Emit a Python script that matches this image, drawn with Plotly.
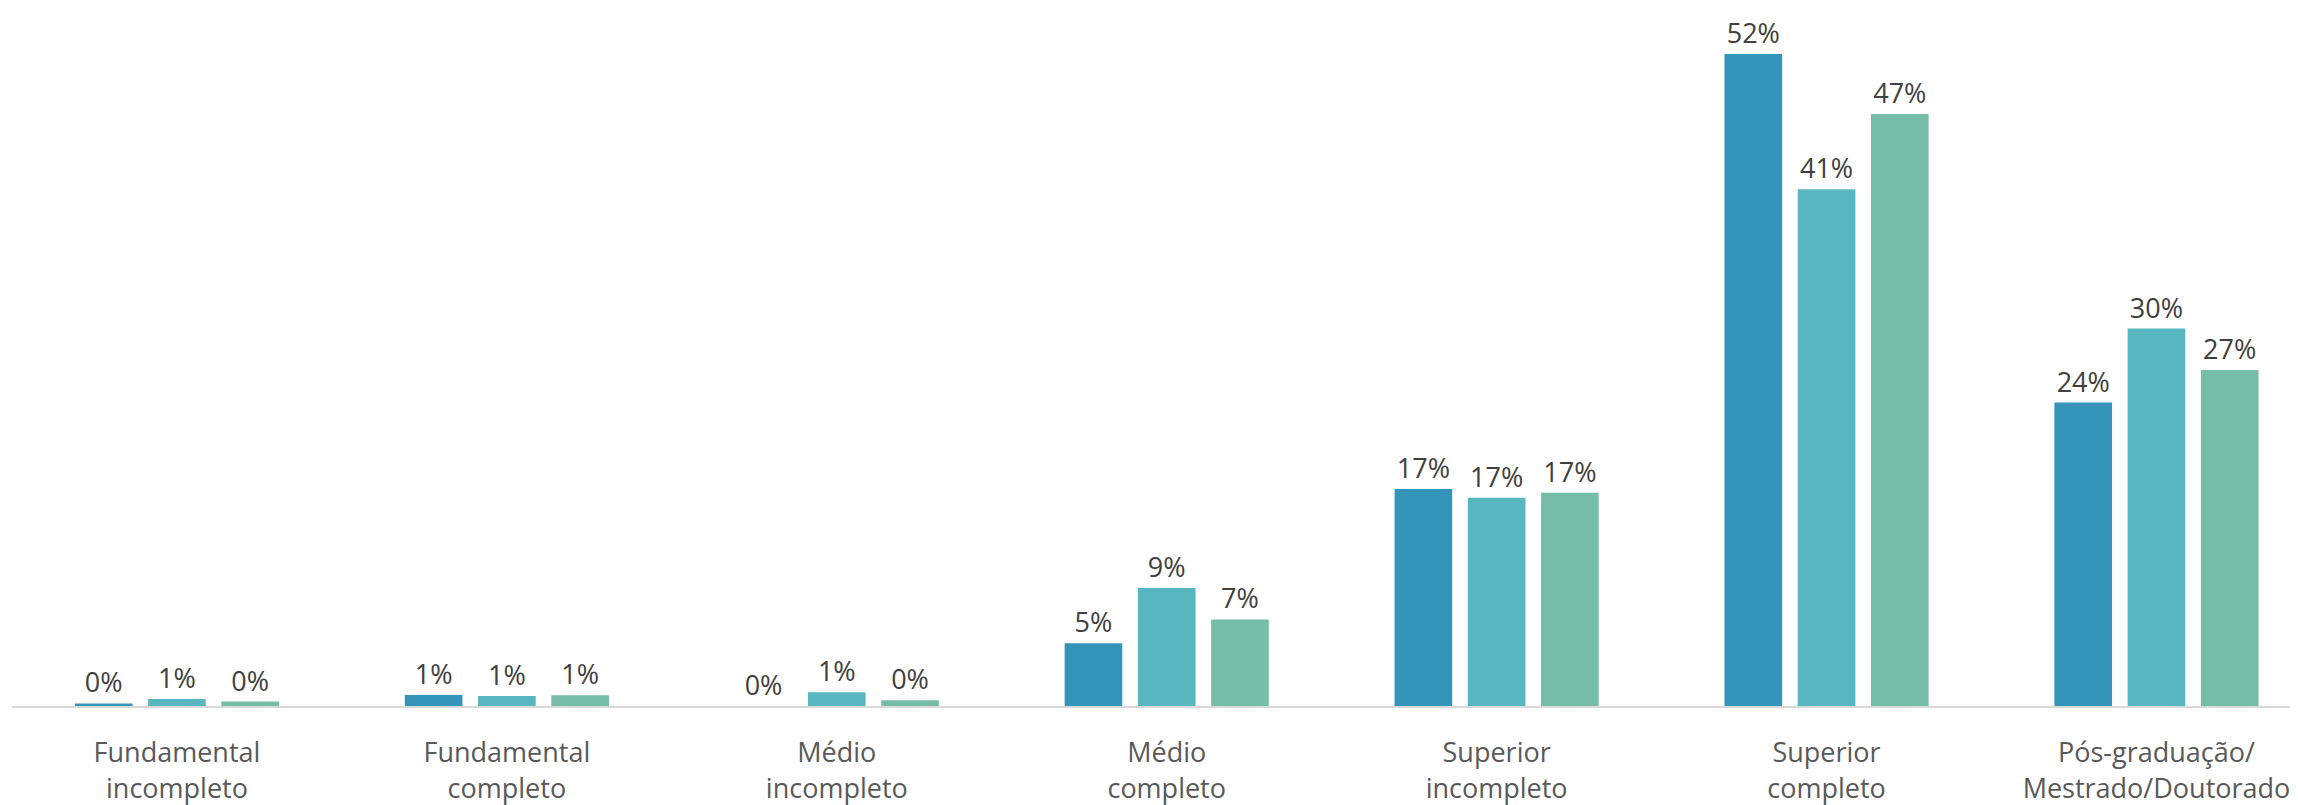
import plotly.graph_objects as go

categories = [
    "Fundamental<br>incompleto",
    "Fundamental<br>completo",
    "Médio<br>incompleto",
    "Médio<br>completo",
    "Superior<br>incompleto",
    "Superior<br>completo",
    "Pós-graduação/<br>Mestrado/Doutorado",
]

series_names = ["Série 1", "Série 2", "Série 3"]
serie_1 = [0.2, 0.88, 0.0, 5.0, 17.3, 52.0, 24.2]
serie_2 = [0.55, 0.8, 1.09, 9.4, 16.6, 41.2, 30.1]
serie_3 = [0.35, 0.85, 0.45, 6.9, 17.0, 47.2, 26.8]
colors = ["#3494BA", "#58B6C0", "#75BDA7"]

font_family = "Segoe UI, Open Sans, sans-serif"

fig = go.Figure()
for name, vals, col in zip(series_names, [serie_1, serie_2, serie_3], colors):
    fig.add_trace(go.Bar(
        x=categories,
        y=vals,
        name=name,
        marker=dict(color=col, line=dict(width=0)),
        texttemplate="%{y:.0f}%",
        textposition="outside",
        textfont=dict(family=font_family, size=27, color="#404040"),
        cliponaxis=False,
        showlegend=False,
    ))

fig.update_layout(
    width=2290,
    height=797,
    margin=dict(l=4, r=0, t=0, b=99),
    paper_bgcolor="white",
    plot_bgcolor="white",
    barmode="group",
    bargap=0.334,
    bargroupgap=0.213,
    font=dict(family=font_family),
    xaxis=dict(
        type="category",
        range=[-0.5, 6.429],
        showline=True,
        linecolor="#D9D9D9",
        linewidth=2,
        showgrid=False,
        ticks="outside",
        ticklen=22,
        tickcolor="rgba(0,0,0,0)",
        tickfont=dict(family=font_family, size=27, color="#595959"),
        fixedrange=True,
    ),
    yaxis=dict(
        range=[0, 55.66],
        visible=False,
        showgrid=False,
        zeroline=False,
        fixedrange=True,
    ),
)

fig.write_html("out.html")
